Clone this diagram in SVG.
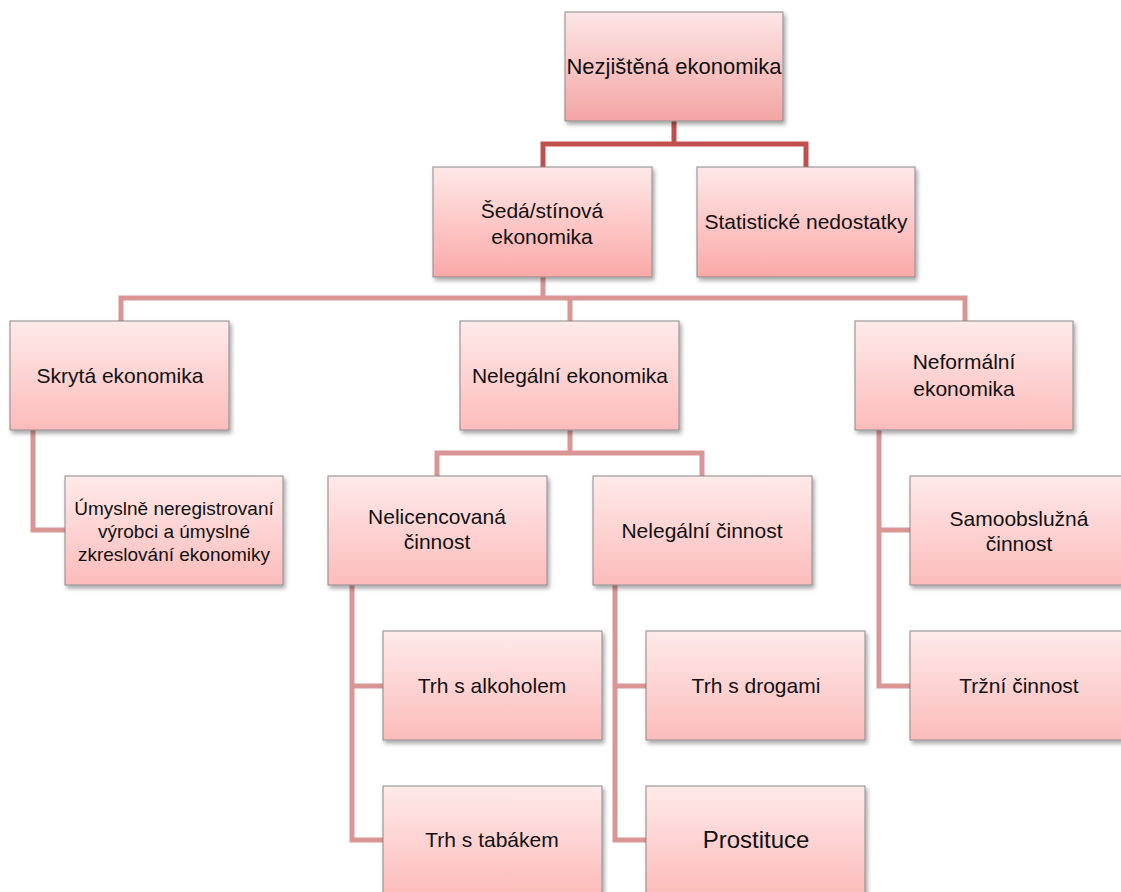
<svg xmlns="http://www.w3.org/2000/svg" width="1121" height="892" viewBox="0 0 1121 892">
<defs>
<linearGradient id="g0" x1="0" y1="0" x2="0" y2="1"><stop offset="0" stop-color="#fde6e6"/><stop offset="1" stop-color="#f3a5a4"/></linearGradient>
<linearGradient id="g1" x1="0" y1="0" x2="0" y2="1"><stop offset="0" stop-color="#ffe8e8"/><stop offset="1" stop-color="#fba9a7"/></linearGradient>
<linearGradient id="g2" x1="0" y1="0" x2="0" y2="1"><stop offset="0" stop-color="#ffeaea"/><stop offset="1" stop-color="#fcbcbb"/></linearGradient>
<filter id="sh" x="-10%" y="-10%" width="125%" height="130%"><feDropShadow dx="2" dy="3" stdDeviation="2" flood-color="#000" flood-opacity="0.35"/></filter>
<style>
.b{stroke:#8a8a8a;stroke-width:1;filter:url(#sh)}
.l0{fill:url(#g0)}.l1{fill:url(#g1)}.l2{fill:url(#g2)}
text{font-family:"Liberation Sans",Arial,sans-serif;font-size:21px;fill:#111;text-anchor:middle}
.s{font-size:19px}
.c1{fill:none;stroke:#c0504d;stroke-width:5}
.c2{fill:none;stroke:#d99694;stroke-width:5}
</style>
</defs>
<g id="connectors">
<path class="c1" d="M674 121V144H543V167M674 144H806V167"/>
<path class="c2" d="M543 277V298H121V321M543 298H965V321M570 298V321"/>
<path class="c2" d="M33 430V530H65"/>
<path class="c2" d="M570 430V453H437V476M570 453H702V476"/>
<path class="c2" d="M352 585V840H383M352 686H383"/>
<path class="c2" d="M615 585V840H646M615 686H646"/>
<path class="c2" d="M879 430V686H910M879 530H910"/>
</g>
<g id="n-root"><rect class="b l0" x="565" y="12" width="218" height="109"/><text x="674" y="74" style="font-size:22px">Nezjištěná ekonomika</text></g>
<g id="n-seda"><rect class="b l1" x="433" y="167" width="219" height="110"/><text x="542" y="218">Šedá/stínová</text><text x="542" y="244">ekonomika</text></g>
<g id="n-stat"><rect class="b l1" x="697" y="167" width="218" height="110"/><text x="806" y="229">Statistické nedostatky</text></g>
<g id="n-skryta"><rect class="b l2" x="10" y="321" width="219" height="109"/><text x="120" y="383">Skrytá ekonomika</text></g>
<g id="n-nelegalni"><rect class="b l2" x="460" y="321" width="219" height="109"/><text x="570" y="383">Nelegální ekonomika</text></g>
<g id="n-neformalni"><rect class="b l2" x="855" y="321" width="218" height="109"/><text x="964" y="369">Neformální</text><text x="964" y="396">ekonomika</text></g>
<g id="n-umyslne"><rect class="b l2" x="65" y="476" width="218" height="109"/><text class="s" x="174" y="515">Úmyslně neregistrovaní</text><text class="s" x="174" y="538">výrobci a úmyslné</text><text class="s" x="174" y="561">zkreslování ekonomiky</text></g>
<g id="n-nelicencovana"><rect class="b l2" x="328" y="476" width="219" height="109"/><text x="437" y="524">Nelicencovaná</text><text x="437" y="549">činnost</text></g>
<g id="n-nelegalnicinnost"><rect class="b l2" x="593" y="476" width="219" height="109"/><text x="702" y="538">Nelegální činnost</text></g>
<g id="n-samoobsluzna"><rect class="b l2" x="910" y="476" width="218" height="109"/><text x="1019" y="526">Samoobslužná</text><text x="1019" y="551">činnost</text></g>
<g id="n-alkohol"><rect class="b l2" x="383" y="631" width="219" height="109"/><text x="492" y="693">Trh s alkoholem</text></g>
<g id="n-drogy"><rect class="b l2" x="646" y="631" width="219" height="109"/><text x="756" y="693">Trh s drogami</text></g>
<g id="n-trzni"><rect class="b l2" x="910" y="631" width="218" height="109"/><text x="1019" y="693">Tržní činnost</text></g>
<g id="n-tabak"><rect class="b l2" x="383" y="786" width="219" height="109"/><text x="492" y="847">Trh s tabákem</text></g>
<g id="n-prostituce"><rect class="b l2" x="646" y="786" width="219" height="109"/><text x="756" y="848" style="font-size:24px">Prostituce</text></g>
</svg>
